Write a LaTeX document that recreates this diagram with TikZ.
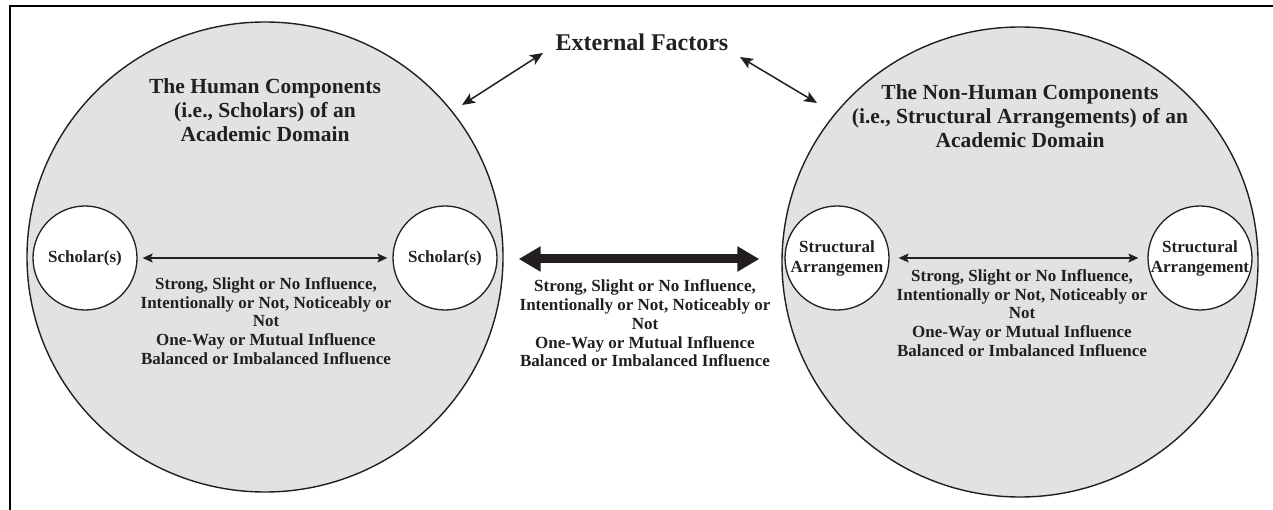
\documentclass[tikz,border=0pt]{standalone}
\usepackage{fontspec}
\setmainfont{Liberation Serif}
\usetikzlibrary{arrows.meta,shapes.geometric}
\definecolor{domfill}{RGB}{225,226,228}
\definecolor{ink}{RGB}{35,31,32}
\begin{document}
\begin{tikzpicture}[x=1pt,y=-1pt,
  dmnblob/.style={ellipse, draw=ink, line width=1.4pt, fill=domfill, inner sep=0pt, minimum width=476pt, minimum height=470pt},
  actorc/.style={circle, draw=ink, line width=1.3pt, fill=white, inner sep=0pt, minimum size=104pt},
  actortxt/.style={font=\fontsize{17}{20}\selectfont\bfseries, align=center, text=ink, inner sep=0pt},
  bodytxt/.style={font=\fontsize{17}{18.8}\selectfont\bfseries, align=center, text=ink, inner sep=0pt},
  titletxt/.style={font=\fontsize{21.5}{24}\selectfont\bfseries, align=center, text=ink, inner sep=0pt},
  headtxt/.style={font=\fontsize{24}{26}\selectfont\bfseries, text=ink, inner sep=0pt},
  thinlink/.style={draw=ink, line width=1.2pt, {Stealth[length=10pt,width=9pt,inset=2pt]}-{Stealth[length=10pt,width=9pt,inset=2pt]}},
  extlink/.style={draw=ink, line width=1.5pt, {Stealth[length=13pt,width=11pt,inset=3pt]}-{Stealth[length=13pt,width=11pt,inset=3pt]}},
  biglink/.style={draw=ink, fill=ink, line width=9pt, {Triangle[length=22pt,width=24pt]}-{Triangle[length=22pt,width=24pt]}},
  frameline/.style={draw=black, line width=2pt}]
\useasboundingbox (0,0) rectangle (1273,510);
\fill[white] (0,0) rectangle (1273,510);
\draw[frameline] (10,510) -- (10,6) -- (1273,6);

% big domains
\node[dmnblob] (L) at (265,257) {};
\node[dmnblob] (R) at (1020,262) {};

% titles
\node[titletxt] (Ltitle) at (265,110) {The Human Components\\(i.e., Scholars) of an\\Academic Domain};
\node[titletxt] (Rtitle) at (1020,116) {The Non-Human Components\\(i.e., Structural Arrangements) of an\\Academic Domain};

% external factors
\node[headtxt] (EF) at (642,42) {External Factors};
\coordinate (efl) at (543,53);
\coordinate (efr) at (740,57);
\coordinate (lin) at (462,105);
\coordinate (rin) at (817,103);
\draw[extlink] (lin) -- (efl);
\draw[extlink] (efr) -- (rin);

% actors
\node[actorc] (S1) at (85,258) {};
\node[actortxt] at (S1.center) {Scholar(s)};
\node[actorc] (S2) at (445,258) {};
\node[actortxt] at (S2.center) {Scholar(s)};
\node[actorc] (A1) at (837,258) {};
\node[actortxt] at (A1.center) {Structural\\Arrangemen};
\node[actorc] (A2) at (1200,258) {};
\node[actortxt] at (A2.center) {Structural\\Arrangement};

% links
\draw[thinlink, shorten <=5pt, shorten >=5pt] (S1.east) -- (S2.west);
\draw[thinlink, shorten <=9pt, shorten >=9pt] (A1.east) -- (A2.west);
\coordinate (bigy) at (0,259);
\draw[biglink, shorten <=15pt, shorten >=22pt] (L.east |- bigy) -- (R.west |- bigy);

% influence texts
\node[bodytxt] (Lbody) at (266,321) {Strong, Slight or No Influence,\\Intentionally or Not, Noticeably or\\Not\\One-Way or Mutual Influence\\Balanced or Imbalanced Influence};
\node[bodytxt] (Mbody) at (645,323.5) {Strong, Slight or No Influence,\\Intentionally or Not, Noticeably or\\Not\\One-Way or Mutual Influence\\Balanced or Imbalanced Influence};
\node[bodytxt] (Rbody) at (1022,313) {Strong, Slight or No Influence,\\Intentionally or Not, Noticeably or\\Not\\One-Way or Mutual Influence\\Balanced or Imbalanced Influence};
\end{tikzpicture}
\end{document}
